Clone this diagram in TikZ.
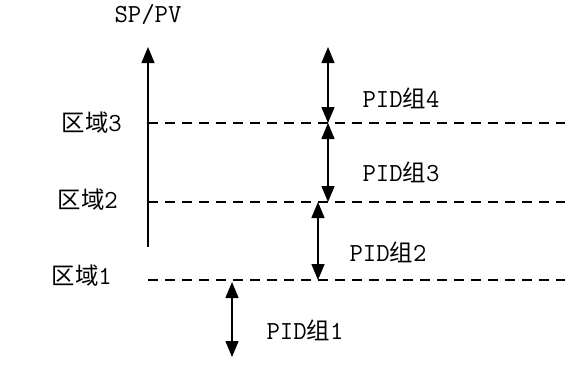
\documentclass[tikz,border=0pt]{standalone}
\usepackage{fontspec}
\newfontfamily\cjk[Scale=0.9]{Noto Sans CJK SC}
\usetikzlibrary{arrows.meta}
\begin{document}
\begin{tikzpicture}[x=1pt,y=-1pt,
  lbl/.style={font=\ttfamily\fontsize{26}{28}\selectfont, inner sep=0pt},
  tip/.tip={Triangle[length=16pt,width=13pt]},
  axisline/.style={line width=1.5pt, -tip},
  dbl/.style={line width=1.5pt, tip-tip},
  zone/.style={line width=1.3pt, dash pattern=on 10pt off 7pt}]
\useasboundingbox (0,0) rectangle (576,365);
% axis
\coordinate (ax0) at (148,247);
\coordinate (ax1) at (148,47);
\draw[axisline] (ax0) -- (ax1);
\node[lbl] (sppv) at (148,15) {SP/PV};
% zone lines
\coordinate (z3a) at (148,123); \coordinate (z3b) at (565,123);
\coordinate (z2a) at (148,202); \coordinate (z2b) at (565,202);
\coordinate (z1a) at (148,280); \coordinate (z1b) at (565,280);
\draw[zone] (z3a) -- (z3b);
\draw[zone] (z2a) -- (z2b);
\draw[zone] (z1a) -- (z1b);
\node[lbl, anchor=east] (l3) at (122,123) {{\cjk 区域}3};
\node[lbl, anchor=east] (l2) at (118,200) {{\cjk 区域}2};
\node[lbl, anchor=east] (l1) at (112,276) {{\cjk 区域}1};
% PID arrows
\coordinate (p4t) at (328,47);  \coordinate (p4b) at (328,123);
\coordinate (p3t) at (328,123); \coordinate (p3b) at (328,202);
\coordinate (p2t) at (318,202); \coordinate (p2b) at (318,280);
\coordinate (p1t) at (232,282); \coordinate (p1b) at (232,357);
\draw[dbl] (p4t) -- (p4b);
\draw[dbl] (p3t) -- (p3b);
\draw[dbl] (p2t) -- (p2b);
\draw[dbl] (p1t) -- (p1b);
\node[lbl] (g4) at (401,98) {PID{\cjk 组}4};
\node[lbl] (g3) at (401,172) {PID{\cjk 组}3};
\node[lbl] (g2) at (388,252) {PID{\cjk 组}2};
\node[lbl] (g1) at (305,330) {PID{\cjk 组}1};
\end{tikzpicture}
\end{document}
